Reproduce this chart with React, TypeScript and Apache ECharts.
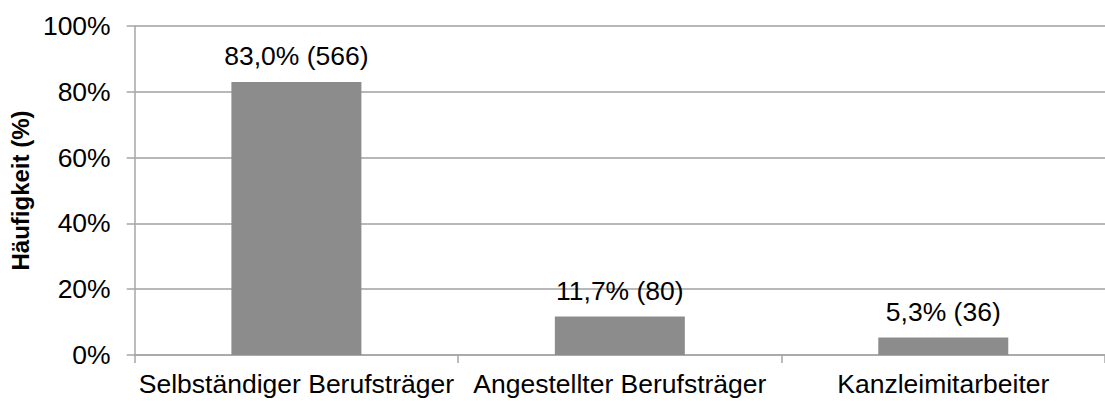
import React, { useEffect, useRef } from "react";
import * as echarts from "echarts";

const categories = ["Selbständiger Berufsträger", "Angestellter Berufsträger", "Kanzleimitarbeiter"];
const percentValues = [83.0, 11.7, 5.3];
const counts = [566, 80, 36];
const yTicks = [0, 20, 40, 60, 80, 100];

export default function App() {
  const ref = useRef<HTMLDivElement>(null);
  useEffect(() => {
    if (!ref.current) return;
    const chart = echarts.init(ref.current, null, { renderer: "svg" });
    const font = "'Liberation Sans', Arial, sans-serif";
    chart.setOption({
      animation: false,
      grid: { left: 134, top: 26, width: 978, height: 329, containLabel: false },
      xAxis: {
        type: "category",
        data: categories,
        axisLine: { show: true, lineStyle: { color: "#a6a6a6", width: 1.5 } },
        axisTick: { show: true, length: 8, lineStyle: { color: "#a6a6a6", width: 1.5 } },
        axisLabel: { color: "#000", fontSize: 26.5, fontFamily: font, margin: 15, interval: 0, hideOverlap: false },
        splitLine: { show: false },
      },
      yAxis: {
        type: "value",
        min: yTicks[0],
        max: yTicks[yTicks.length - 1],
        interval: 20,
        name: "Häufigkeit (%)",
        nameLocation: "middle",
        nameGap: 102,
        nameTextStyle: { color: "#000", fontSize: 24, fontWeight: "bold", fontFamily: font },
        axisLine: { show: true, lineStyle: { color: "#a6a6a6", width: 1.5 } },
        axisTick: { show: true, length: 8, inside: false, lineStyle: { color: "#a6a6a6", width: 1.5 } },
        axisLabel: { color: "#000", fontSize: 26.5, fontFamily: font, margin: 24, formatter: (v: number) => v + "%" },
        splitLine: { show: true, lineStyle: { color: "#a0a0a0", width: 1.5 } },
      },
      series: [
        {
          type: "bar",
          data: percentValues,
          barWidth: 130,
          itemStyle: { color: "#8c8c8c" },
          label: {
            show: true,
            position: "top",
            distance: 12,
            color: "#000",
            fontSize: 26.5,
            fontFamily: font,
            formatter: (p: any) =>
              percentValues[p.dataIndex].toFixed(1).replace(".", ",") + "% (" + counts[p.dataIndex] + ")",
          },
        },
      ],
    });
    return () => chart.dispose();
  }, []);
  return <div ref={ref} style={{ width: 1105, height: 401, position: "absolute", left: 0, top: 0 }} />;
}
